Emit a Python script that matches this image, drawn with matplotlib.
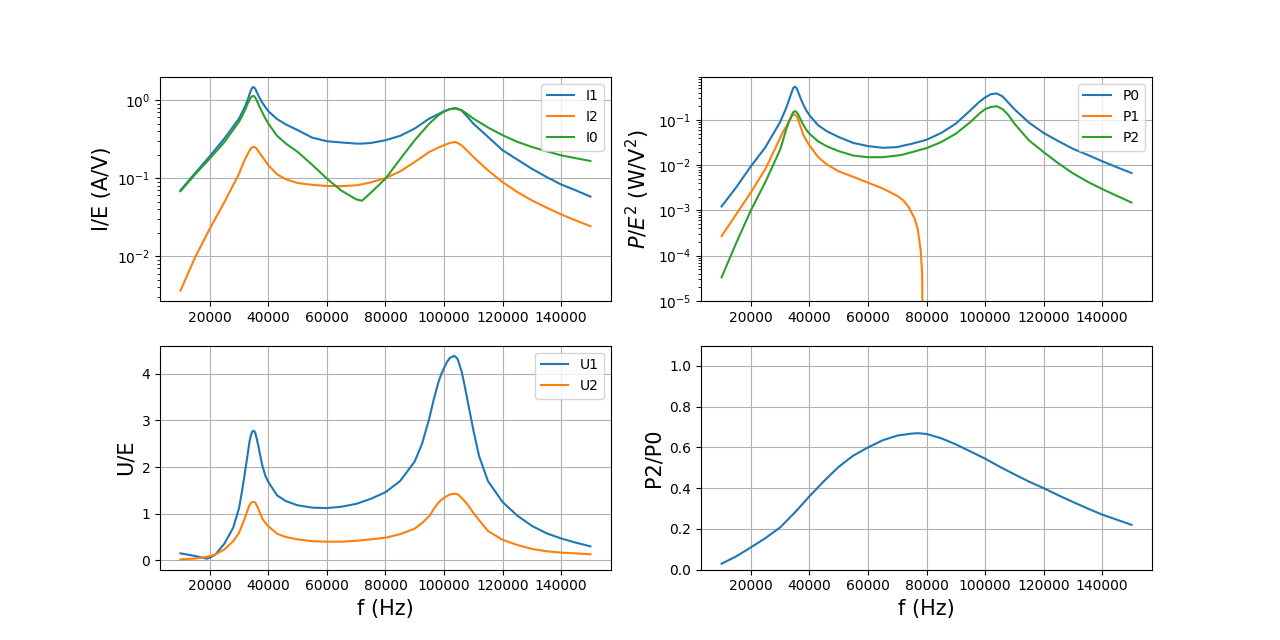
import matplotlib
matplotlib.use("Agg")
import matplotlib.pyplot as plt

# ---- Currents (top-left) ----
freq_i = [10000, 15000, 20000, 25000, 30000, 31000, 32000, 33000, 34000, 34500, 35000, 35500,
          36000, 37000, 38000, 39000, 40000, 43000, 46000, 50000, 55000, 60000, 65000, 70000,
          72000, 75000, 80000, 85000, 90000, 95000, 98000, 100000, 102000, 104000, 106000,
          108000, 110000, 115000, 120000, 125000, 130000, 135000, 140000, 145000, 150000]
i1 = [0.0698, 0.116, 0.191, 0.322, 0.58, 0.69, 0.82, 1.02, 1.32, 1.44, 1.47, 1.40,
      1.28, 1.07, 0.92, 0.81, 0.72, 0.57, 0.487, 0.412, 0.33, 0.297, 0.286, 0.277,
      0.277, 0.282, 0.306, 0.348, 0.432, 0.58, 0.66, 0.72, 0.766, 0.78, 0.735,
      0.61, 0.50, 0.338, 0.228, 0.173, 0.132, 0.1035, 0.083, 0.0698, 0.058]
i2 = [0.00363, 0.0097, 0.0225, 0.0494, 0.114, 0.142, 0.173, 0.206, 0.239, 0.248, 0.251, 0.248,
      0.239, 0.21, 0.187, 0.165, 0.146, 0.112, 0.0966, 0.0867, 0.082, 0.0794, 0.079, 0.081,
      0.0834, 0.0883, 0.1, 0.122, 0.161, 0.217, 0.246, 0.264, 0.283, 0.29, 0.264,
      0.223, 0.187, 0.126, 0.089, 0.0664, 0.0519, 0.042, 0.0343, 0.0287, 0.0243]
i0 = [0.068, 0.112, 0.178, 0.29, 0.527, 0.62, 0.74, 0.906, 1.08, 1.12, 1.13, 1.08,
      1.0, 0.82, 0.687, 0.58, 0.50, 0.348, 0.277, 0.217, 0.148, 0.0985, 0.069, 0.0535,
      0.0514, 0.065, 0.0985, 0.175, 0.306, 0.50, 0.635, 0.71, 0.766, 0.79, 0.744,
      0.66, 0.58, 0.446, 0.355, 0.292, 0.251, 0.221, 0.196, 0.18, 0.166]

# ---- Powers (top-right) ----
freq_p = freq_i
p0 = [0.00122, 0.00324, 0.0094, 0.0251, 0.090, 0.127, 0.179, 0.274, 0.42, 0.51, 0.543, 0.52,
      0.442, 0.299, 0.212, 0.16, 0.127, 0.076, 0.056, 0.0419, 0.031, 0.0264, 0.0242, 0.0251,
      0.027, 0.0297, 0.0365, 0.0514, 0.0828, 0.164, 0.251, 0.314, 0.372, 0.385, 0.33,
      0.239, 0.173, 0.0873, 0.0514, 0.034, 0.023, 0.0169, 0.0122, 0.009, 0.0067]
p2 = [3.3e-5, 1.9e-4, 1.0e-3, 0.0043, 0.022, 0.036, 0.060, 0.090, 0.130, 0.148, 0.156, 0.152,
      0.138, 0.102, 0.076, 0.06, 0.0496, 0.0335, 0.026, 0.0204, 0.0163, 0.015, 0.015, 0.0163,
      0.0172, 0.0194, 0.0238, 0.0324, 0.0496, 0.09, 0.138, 0.173, 0.194, 0.201, 0.173,
      0.127, 0.083, 0.0352, 0.0194, 0.011, 0.0066, 0.0043, 0.00296, 0.0021, 0.00149]
freq_p1 = [10000, 15000, 20000, 25000, 30000, 31000, 32000, 33000, 34000, 34500, 35000, 35500,
           36000, 37000, 38000, 39000, 40000, 43000, 46000, 50000, 55000, 60000, 65000, 70000,
           72000, 74000, 76000, 77000, 78000, 78500, 79000]
p1 = [2.7e-4, 8.2e-4, 0.0025, 0.0083, 0.040, 0.055, 0.07, 0.093, 0.121, 0.13, 0.132, 0.124,
      0.107, 0.07, 0.0456, 0.035, 0.0273, 0.015, 0.0103, 0.0073, 0.0055, 0.0041, 0.00306, 0.0021,
      0.00168, 0.00116, 6.4e-4, 3.8e-4, 1.3e-4, 4e-5, 1e-8]

# ---- Voltages (bottom-left) ----
freq_u = [10000, 15000, 18000, 19000, 20000, 22000, 25000, 28000, 30000, 31000, 32000, 33000,
          33500, 34000, 34500, 35000, 35500, 36000, 36500, 37000, 38000, 39000, 40000, 43000,
          46000, 50000, 55000, 60000, 65000, 70000, 75000, 80000, 85000, 90000, 92500, 95000,
          96500, 98000, 99000, 100000, 101000, 102000, 103500, 104500, 105000, 106000, 107000,
          108000, 109000, 110000, 112000, 115000, 120000, 125000, 130000, 135000, 140000,
          145000, 150000]
u1 = [0.15, 0.093, 0.05, 0.036, 0.057, 0.13, 0.36, 0.70, 1.12, 1.48, 1.875, 2.30,
      2.52, 2.67, 2.76, 2.78, 2.74, 2.62, 2.48, 2.32, 2.02, 1.81, 1.68, 1.39,
      1.27, 1.18, 1.13, 1.12, 1.15, 1.21, 1.32, 1.46, 1.70, 2.12, 2.5, 3.05,
      3.45, 3.80, 3.98, 4.12, 4.25, 4.34, 4.385, 4.33, 4.25, 4.05, 3.76,
      3.44, 3.12, 2.80, 2.23, 1.70, 1.25, 0.96, 0.74, 0.58, 0.47,
      0.38, 0.30]
u2 = [0.02, 0.04, 0.065, 0.075, 0.09, 0.13, 0.235, 0.41, 0.59, 0.75, 0.91, 1.09,
      1.17, 1.23, 1.25, 1.255, 1.24, 1.18, 1.12, 1.04, 0.89, 0.80, 0.73, 0.57,
      0.50, 0.45, 0.41, 0.40, 0.40, 0.42, 0.45, 0.485, 0.56, 0.68, 0.80, 0.95,
      1.1, 1.23, 1.29, 1.34, 1.38, 1.41, 1.43, 1.42, 1.40, 1.34, 1.27,
      1.2, 1.11, 1.02, 0.86, 0.63, 0.44, 0.33, 0.245, 0.195, 0.165,
      0.15, 0.13]

# ---- Ratio (bottom-right) ----
freq_r = [10000, 15000, 20000, 25000, 30000, 35000, 40000, 45000, 50000, 55000, 60000, 65000,
          70000, 75000, 77000, 80000, 85000, 90000, 95000, 100000, 105000, 110000, 115000,
          120000, 125000, 130000, 135000, 140000, 145000, 150000]
ratio = [0.029, 0.065, 0.109, 0.155, 0.207, 0.28, 0.36, 0.435, 0.505, 0.56, 0.60, 0.635,
         0.658, 0.668, 0.670, 0.666, 0.645, 0.615, 0.58, 0.545, 0.505, 0.468, 0.432,
         0.40, 0.365, 0.332, 0.30, 0.27, 0.245, 0.22]

fig, axs = plt.subplots(2, 2, figsize=(12.8, 6.4), dpi=100)
lab_fs = 15

ax = axs[0, 0]
ax.semilogy(freq_i, i1, label="I1")
ax.semilogy(freq_i, i2, label="I2")
ax.semilogy(freq_i, i0, label="I0")
ax.set_ylabel("I/E (A/V)", fontsize=lab_fs)
ax.grid(True)
ax.legend(loc="upper right")

ax = axs[0, 1]
ax.semilogy(freq_p, p0, label="P0")
ax.semilogy(freq_p1, p1, label="P1")
ax.semilogy(freq_p, p2, label="P2")
ax.set_ylim(1e-5, 0.9)
ax.set_ylabel("$P/E^2$ (W/V$^2$)", fontsize=lab_fs)
ax.grid(True)
ax.legend(loc="upper right")

ax = axs[1, 0]
ax.plot(freq_u, u1, label="U1")
ax.plot(freq_u, u2, label="U2")
ax.set_ylabel("U/E", fontsize=lab_fs)
ax.set_xlabel("f (Hz)", fontsize=lab_fs)
ax.grid(True)
ax.legend(loc="upper right")

ax = axs[1, 1]
ax.plot(freq_r, ratio)
ax.set_ylim(0, 1.1)
ax.set_ylabel("P2/P0", fontsize=lab_fs)
ax.set_xlabel("f (Hz)", fontsize=lab_fs)
ax.grid(True)

for a in axs.flat:
    a.set_xlim(3000, 157000)

fig.savefig("out.png", dpi=100)
